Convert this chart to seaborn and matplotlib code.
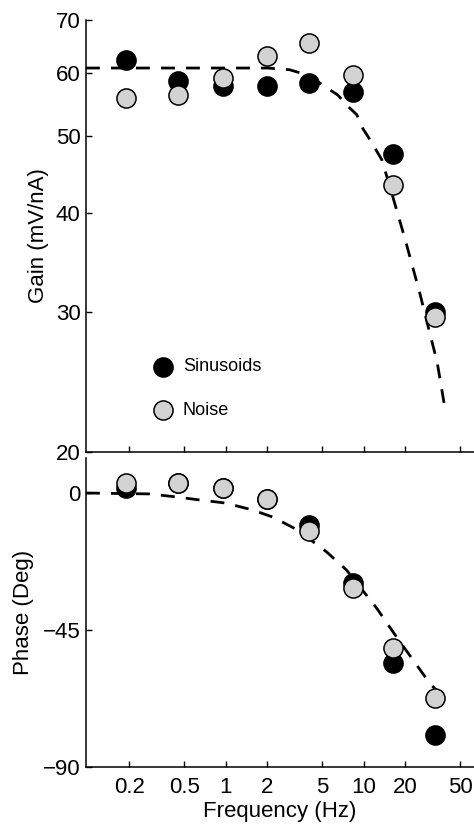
import numpy as np
import pandas as pd
import seaborn as sns
import matplotlib.pyplot as plt
from matplotlib.ticker import NullLocator

# measured points (frequency in Hz)
freq = [0.19, 0.45, 0.95, 2.0, 4.0, 8.3, 16.3, 32.6]
gain_sin = [62.3, 58.6, 57.8, 57.8, 58.3, 56.8, 47.4, 30.0]
gain_noise = [55.9, 56.3, 59.2, 63.0, 65.5, 59.7, 43.4, 29.6]
phase_sin = [1.6, 3.3, 1.6, -2.0, -10.4, -29.4, -55.8, -79.5]
phase_noise = [3.3, 3.3, 1.6, -2.0, -12.4, -31.3, -50.9, -67.3]

# fitted curves
fit_f_gain = [0.097, 1.0, 2.0, 2.9, 4.0, 5.4, 6.5, 7.6, 8.9, 9.85, 11.0,
              13.5, 15.4, 20.0, 25.5, 30.0, 34.0, 39.3]
fit_gain = [60.9, 60.9, 60.9, 60.6, 59.6, 57.5, 56.3, 54.6, 53.2, 51.1, 49.6,
            46.7, 43.3, 37.0, 31.7, 28.3, 26.0, 22.4]
fit_f_phase = [0.097, 0.28, 0.44, 0.65, 1.0, 1.57, 2.19, 3.27, 5.4, 7.5, 9.4,
               12.4, 17.3, 30.0, 40.0]
fit_phase = [0.0, -0.3, -1.3, -2.3, -3.3, -5.6, -7.9, -12.0, -19.4, -25.3, -30.9,
             -37.8, -47.3, -62.4, -68.5]

xticks = [0.2, 0.5, 1, 2, 5, 10, 20, 50]
xticklabels = ['0.2', '0.5', '1', '2', '5', '10', '20', '50']
gain_ticks = [20, 30, 40, 50, 60, 70]
phase_ticks = [0, -45, -90]

sns.set_style('ticks')
plt.rcParams['font.family'] = ['Liberation Sans', 'DejaVu Sans']
plt.rcParams.update({'text.color': 'black', 'axes.labelcolor': 'black',
                     'xtick.color': 'black', 'ytick.color': 'black',
                     'axes.edgecolor': 'black'})

noise_col = '#d2d2d2'
mk = dict(s=190, edgecolor='black', linewidth=1.1, zorder=3)
dash = (0, (5, 4))

fig = plt.figure(figsize=(4.74, 8.26), dpi=100)
ax1 = fig.add_axes([86/474, (826-452)/826, 388/474, 432/826])
ax2 = fig.add_axes([86/474, (826-767)/826, 388/474, 309/826])

for ax in (ax1, ax2):
    ax.set_xscale('log')

ax1.set_yscale('log')

# gain panel
sns.lineplot(x=fit_f_gain, y=fit_gain, ax=ax1, color='black', lw=2,
             linestyle=dash, sort=False, estimator=None)
sns.scatterplot(x=freq, y=gain_sin, ax=ax1, color='black', label='Sinusoids', **mk)
sns.scatterplot(x=freq, y=gain_noise, ax=ax1, color=noise_col, label='Noise', **mk)

# phase panel
sns.lineplot(x=fit_f_phase, y=fit_phase, ax=ax2, color='black', lw=2,
             linestyle=dash, sort=False, estimator=None)
sns.scatterplot(x=freq, y=phase_sin, ax=ax2, color='black', **mk)
sns.scatterplot(x=freq, y=phase_noise, ax=ax2, color=noise_col, **mk)

for ax in (ax1, ax2):
    ax.set_xlim(0.097, 63)
    ax.set_xticks(xticks)
    ax.xaxis.set_minor_locator(NullLocator())
    ax.yaxis.set_minor_locator(NullLocator())
    for s in ['top', 'right']:
        ax.spines[s].set_visible(False)
    for s in ['left', 'bottom']:
        ax.spines[s].set_linewidth(1.1)
    ax.tick_params(direction='in', length=4, width=1, labelsize=16, pad=4)
    ax.tick_params(axis='x', pad=7)

ax1.set_ylim(20, 70)
ax1.set_yticks(gain_ticks)
ax1.set_yticklabels([str(t) for t in gain_ticks])
ax1.yaxis.set_minor_locator(NullLocator())
ax1.set_xticklabels([])
ax1.set_xlabel('')
ax1.set_ylabel('Gain (mV/nA)', fontsize=16)
ax1.yaxis.set_label_coords(-0.095, 0.5)

ax2.set_ylim(-90, 11.5)
ax2.set_yticks(phase_ticks)
ax2.set_yticklabels(['0', '\u221245', '\u221290'])
ax2.set_xticklabels(xticklabels)
ax2.set_xlabel('Frequency (Hz)', fontsize=16, labelpad=2)
ax2.set_ylabel('Phase (Deg)', fontsize=16)
ax2.yaxis.set_label_coords(-0.134, 0.5)

ax1.legend(loc='center left', bbox_to_anchor=(0.175, 0.147), frameon=False,
           fontsize=13, handlelength=1.0, handletextpad=0.6, labelspacing=1.45,
           borderpad=0, borderaxespad=0)

fig.savefig('out.png', dpi=100)
